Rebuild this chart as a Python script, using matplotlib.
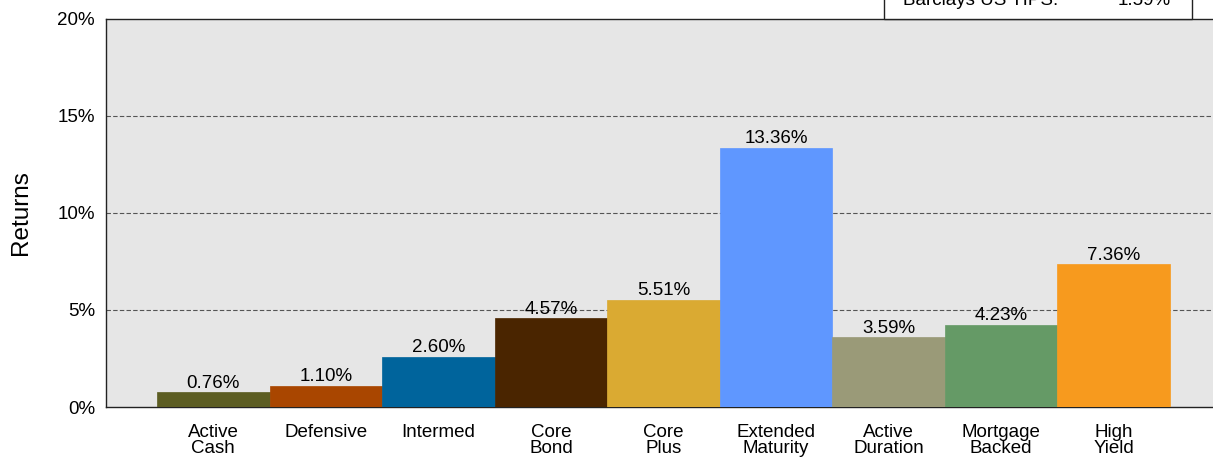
import matplotlib
matplotlib.use("Agg")
import matplotlib.pyplot as plt
from matplotlib.patches import Rectangle

plt.rcParams['font.family'] = ['Liberation Sans', 'DejaVu Sans']

# data
categories = ["Active\nCash", "Defensive", "Intermed", "Core\nBond", "Core\nPlus",
              "Extended\nMaturity", "Active\nDuration", "Mortgage\nBacked", "High\nYield"]
returns = [0.76, 1.10, 2.60, 4.57, 5.51, 13.36, 3.59, 4.23, 7.36]
colors = ["#5c5d22", "#a94600", "#00649c", "#4a2500", "#daaa32",
          "#5f97ff", "#9a9a78", "#659a66", "#f79a1e"]
benchmark_name = "Barclays US TIPS:"
benchmark_value = "1.59%"
yticks = [0, 5, 10, 15, 20]

W, H = 1213, 458
fig = plt.figure(figsize=(W / 100, H / 100), dpi=100)
ax = fig.add_axes([106 / W, 1 - 407 / H, (W - 106 + 2) / W, (407 - 19) / H])
ax.set_facecolor("#e6e6e6")

x = list(range(len(categories)))
ax.bar(x, returns, width=1.0, color=colors, edgecolor=colors, linewidth=0.5, zorder=3)

for xi, v in zip(x, returns):
    ax.annotate(f"{v:.2f}%", (xi, v), xytext=(0, 0.5), textcoords="offset points",
                ha="center", va="bottom", fontsize=13.5, zorder=4)

ax.set_xlim(-0.953, 8.9)
ax.set_ylim(0, 20)
ax.set_yticks(yticks)
ax.set_yticklabels([f"{t}%" for t in yticks], fontsize=13.5)
ax.set_xticks(x)
ax.set_xticklabels(categories, fontsize=13.5, linespacing=0.98)
ax.tick_params(axis="both", length=0)
ax.tick_params(axis="x", pad=12)
ax.tick_params(axis="y", pad=8)

for t in yticks[1:-1]:
    ax.axhline(t, color="#555555", linestyle=(0, (4, 2)), linewidth=0.8, zorder=2)

ax.set_ylabel("Returns", fontsize=17.5, labelpad=18)

for side in ["left", "bottom", "top"]:
    ax.spines[side].set_color("#222222")
    ax.spines[side].set_linewidth(1.0)
ax.spines["right"].set_visible(False)

# benchmark box (cut off at top of the figure)
box = Rectangle((884 / W, 1 - 19 / H), (1192 - 884) / W, 0.1, transform=fig.transFigure,
                facecolor="white", edgecolor="#222222", linewidth=1.0, zorder=5,
                clip_on=False)
fig.patches.append(box)
fig.text(903 / W, 1 - 5 / H, benchmark_name, fontsize=13.5, va="baseline", ha="left", zorder=6)
fig.text(1171 / W, 1 - 5 / H, benchmark_value, fontsize=13.5, va="baseline", ha="right", zorder=6)

fig.savefig("out.png", dpi=100)
